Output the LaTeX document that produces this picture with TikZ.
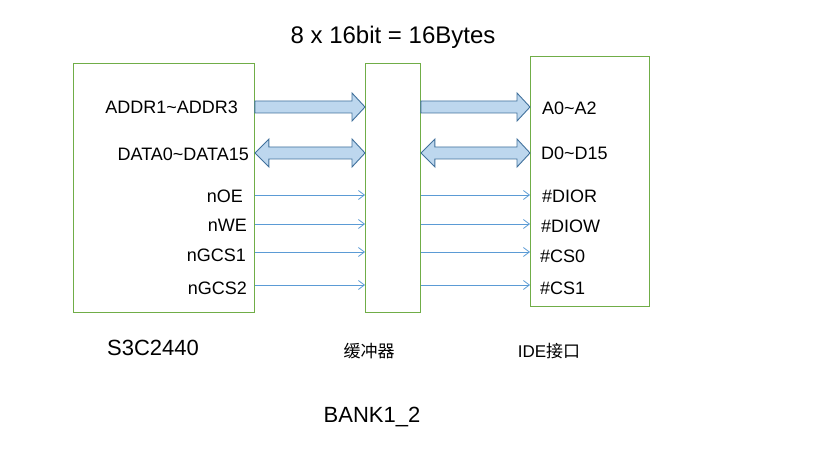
\documentclass[tikz,border=0pt]{standalone}
\usepackage{fontspec}
\setmainfont{Liberation Sans}
\newfontfamily\cjk{Noto Sans CJK SC}
\usepackage{tikz}
\usetikzlibrary{arrows.meta,calc}

\definecolor{boxgreen}{RGB}{112,173,71}
\definecolor{busfill}{RGB}{189,215,238}
\definecolor{busline}{RGB}{65,113,156}
\definecolor{sigblue}{RGB}{91,155,213}

\tikzset{
  chip/.style={draw=boxgreen, line width=0.9pt, anchor=north west, inner sep=0pt},
  bus/.style={draw=busline, fill=busfill, line width=0.9pt, line join=miter},
  sig/.style={draw=sigblue, line width=0.8pt, -{Straight Barb[length=6pt,width=9pt]}},
  pin/.style={inner sep=0pt, font=\fontsize{18}{20}\selectfont},
  caption/.style={inner sep=0pt, font=\fontsize{22}{24}\selectfont}
}

% wide bus arrows, drawn from #1 to #2
\newcommand\busone[2]{%
  \draw[bus] let \p1=(#1), \p2=(#2) in
    (\x1,\y1+6pt) -- (\x2-13pt,\y1+6pt) -- (\x2-13pt,\y1+14pt) -- (\x2,\y1)
    -- (\x2-13pt,\y1-14pt) -- (\x2-13pt,\y1-6pt) -- (\x1,\y1-6pt) -- cycle;}
\newcommand\bustwo[2]{%
  \draw[bus] let \p1=(#1), \p2=(#2) in
    (\x1,\y1) -- (\x1+14pt,\y1+14pt) -- (\x1+14pt,\y1+6pt) -- (\x2-13pt,\y1+6pt)
    -- (\x2-13pt,\y1+14pt) -- (\x2,\y1) -- (\x2-13pt,\y1-14pt) -- (\x2-13pt,\y1-6pt)
    -- (\x1+14pt,\y1-6pt) -- (\x1+14pt,\y1-14pt) -- cycle;}

\begin{document}
\begin{tikzpicture}[x=1pt,y=-1pt]

\useasboundingbox (0,0) rectangle (825,470);

% the three blocks
\node[chip, minimum width=181pt, minimum height=249pt] (cpu) at (73,63) {};
\node[chip, minimum width=55pt, minimum height=249pt] (buf) at (365,63) {};
\node[chip, minimum width=119pt, minimum height=250pt] (ide) at (530,56) {};

\node[font=\fontsize{24}{26}\selectfont, inner sep=0pt] (title) at (393,37) {8 x 16bit = 16Bytes};

% address and data buses
\busone{cpu.east |- 0,107}{buf.west |- 0,107}
\busone{buf.east |- 0,107}{ide.west |- 0,107}
\bustwo{cpu.east |- 0,153}{buf.west |- 0,153}
\bustwo{buf.east |- 0,153}{ide.west |- 0,153}

% control lines
\foreach \y in {195,224,252,285}{
  \draw[sig] (cpu.east |- 0,\y) -- (buf.west |- 0,\y);
  \draw[sig] (buf.east |- 0,\y) -- (ide.west |- 0,\y);
}

% pin names, S3C2440 side
\node[pin, anchor=east] (addr) at (238,107) {ADDR1\textasciitilde ADDR3};
\node[pin, anchor=east] (data) at (249,154) {DATA0\textasciitilde DATA15};
\node[pin, anchor=east] (noe) at (243,196) {nOE};
\node[pin, anchor=east] (nwe) at (247,225) {nWE};
\node[pin, anchor=east] (ngcsa) at (246,255) {nGCS1};
\node[pin, anchor=east] (ngcsb) at (247,288) {nGCS2};

% pin names, IDE side
\node[pin, anchor=west] (a) at (542,108) {A0\textasciitilde A2};
\node[pin, anchor=west] (d) at (541,153) {D0\textasciitilde D15};
\node[pin, anchor=west] (dior) at (542,196) {\#DIOR};
\node[pin, anchor=west] (diow) at (541,226) {\#DIOW};
\node[pin, anchor=west] (csa) at (540,256) {\#CS0};
\node[pin, anchor=west] (csb) at (540,288) {\#CS1};

% block names
\node[caption] (cpuname) at (153,348) {S3C2440};
\node[inner sep=0pt, font=\fontsize{17}{19}\selectfont\cjk] (bufname) at (369,351) {缓冲器};
\node[inner sep=0pt, font=\fontsize{17}{19}\selectfont] (idename) at (549,351) {IDE{\cjk 接口}};
\node[caption] (bank) at (372,417) {BANK1\_2};

\end{tikzpicture}
\end{document}
